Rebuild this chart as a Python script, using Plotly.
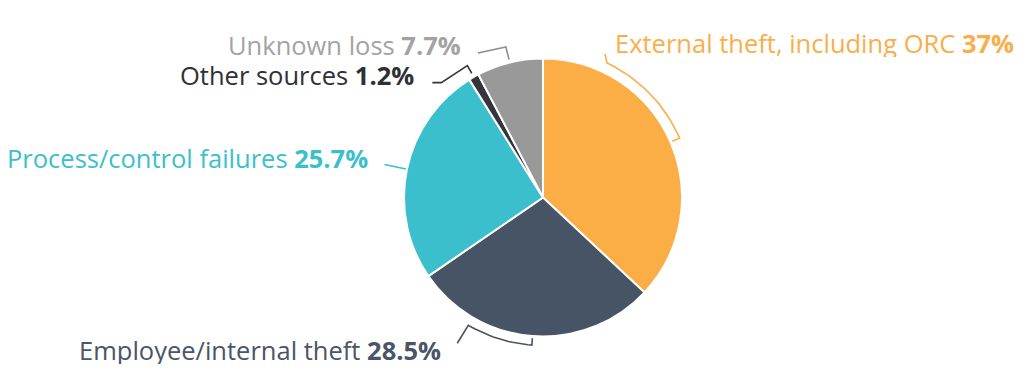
import math
import plotly.graph_objects as go

# ---- data ----
categories = ["External theft, including ORC", "Employee/internal theft",
              "Process/control failures", "Other sources", "Unknown loss"]
values = [37, 28.5, 25.7, 1.2, 7.7]
value_labels = ["37%", "28.5%", "25.7%", "1.2%", "7.7%"]

# ---- style ----
slice_colors = ["#FBAE45", "#475465", "#3BBFCC", "#35363C", "#999999"]
text_colors = ["#F9AE4A", "#4A5567", "#3BBFCC", "#2F3036", "#A3A3A3"]
line_colors = ["#F9AE4A", "#475465", "#3BBFCC", "#35363C", "#8E8E8E"]
W, H = 1034, 382
CX, CY, R = 543, 197.5, 139
FONT = "Open Sans"
FS = 25.5

# label anchors (pixel) and alignment
label_pos = [(613, 42, "left"), (443, 349, "right"), (370, 157, "right"),
             (416, 74, "right"), (463, 44, "right")]

# bracket shape: inner radius of tick, arc radius, arc sweep (deg from mid), tail offsets
bracket_spec = [
    (141, 149, -41.1, [(-2, -9)]),
    (141, 148, 26.0, [(-11, 18)]),
    (140, 162, 0, []),
    (143, 152, 0, [(-26, 17), (-35, 17)]),
    (142, 155, 0, [(-28, 6)]),
]

total = sum(values)
cum = 0
mids = []
for v in values:
    mids.append((cum + v / 2) / total * 360)
    cum += v


def pt(ang, r):
    a = math.radians(ang)
    return CX + r * math.sin(a), CY - r * math.cos(a)


fig = go.Figure()
fig.add_trace(go.Pie(
    labels=categories, values=values, sort=False, direction="clockwise",
    rotation=0, textinfo="none", hoverinfo="label+percent",
    marker=dict(colors=slice_colors, line=dict(color="white", width=2)),
    domain=dict(x=[(CX - R) / W, (CX + R) / W], y=[(H - CY - R) / H, (H - CY + R) / H]),
    showlegend=False,
))

for i in range(len(values)):
    r0, r1, sweep, tail = bracket_spec[i]
    xs, ys = [], []
    x, y = pt(mids[i], r0)
    xs.append(x); ys.append(y)
    n = max(1, int(abs(sweep) / 1.5))
    for k in range(n + 1):
        x, y = pt(mids[i] + sweep * k / n, r1)
        xs.append(x); ys.append(y)
    bx, by = xs[-1], ys[-1]
    for dx, dy in tail:
        xs.append(bx + dx); ys.append(by + dy)
    fig.add_trace(go.Scatter(x=xs, y=ys, mode="lines", hoverinfo="skip",
                             line=dict(color=line_colors[i], width=1.6, shape="linear"),
                             showlegend=False))

for i, (x, y, al) in enumerate(label_pos):
    fig.add_annotation(x=x, y=y, xref="x", yref="y", showarrow=False,
                       xanchor=al, yanchor="middle", height=29,
                       text=f"{categories[i]} <b>{value_labels[i]}</b>",
                       font=dict(family=FONT, size=FS, color=text_colors[i]))

fig.update_layout(
    width=W, height=H, margin=dict(l=0, r=0, t=0, b=0),
    paper_bgcolor="white", plot_bgcolor="rgba(0,0,0,0)",
    xaxis=dict(range=[0, W], visible=False, fixedrange=True),
    yaxis=dict(range=[H, 0], visible=False, fixedrange=True),
)
fig.write_html("out.html", config={"displayModeBar": False},
               post_script="document.body.style.margin='0';document.body.style.overflow='hidden';")
